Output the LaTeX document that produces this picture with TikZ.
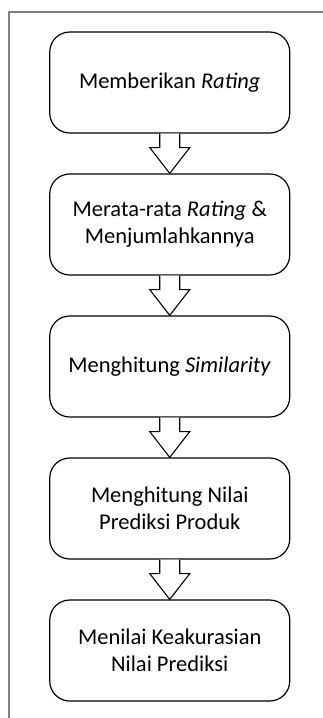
\documentclass[tikz,border=0pt]{standalone}
\usepackage{fontspec}
\setmainfont{Carlito}
\usetikzlibrary{calc}
\begin{document}
\begin{tikzpicture}[x=1pt,y=-1pt,
  stepbox/.style={draw=black,line width=1.2pt,rounded corners=20pt,minimum width=240pt,minimum height=101pt,align=center,inner sep=0pt,font=\fontsize{22.5}{27}\selectfont},
  blockarrow/.style={draw=black,line width=1.1pt,fill=white,line join=miter},
  framecol/.style={draw=black!50,line width=2pt}]
\useasboundingbox (0,0) rectangle (323,718);
\coordinate (ftr) at (323,12);
\coordinate (ftl) at (8.5,12);
\coordinate (fbl) at (8.5,718);
\draw[framecol] (ftr) -- (ftl) -- (fbl);
\node[stepbox] (b1) at (169.75,82.5) {\raisebox{-2pt}{Memberikan \textit{Rating}}};
\node[stepbox] (b2) at (169.75,224.5) {Merata-rata \textit{Rating} \&\\Menjumlahkannya};
\node[stepbox] (b3) at (169.75,366.5) {\raisebox{-2pt}{Menghitung \textit{Similarity}}};
\node[stepbox] (b4) at (169.75,508.5) {Menghitung Nilai\\Prediksi Produk};
\node[stepbox] (b5) at (169.75,650.5) {Menilai Keakurasian\\Nilai Prediksi};
\foreach \a/\b in {b1/b2,b2/b3,b3/b4,b4/b5}{
  \draw[blockarrow] ($(\a.south)+(-10,0)$) -- ++(0,14) -- ++(-10,0) -- (\b.north) -- ($(\a.south)+(20,14)$) -- ++(-10,0) -- ($(\a.south)+(10,0)$);
}
\end{tikzpicture}
\end{document}
